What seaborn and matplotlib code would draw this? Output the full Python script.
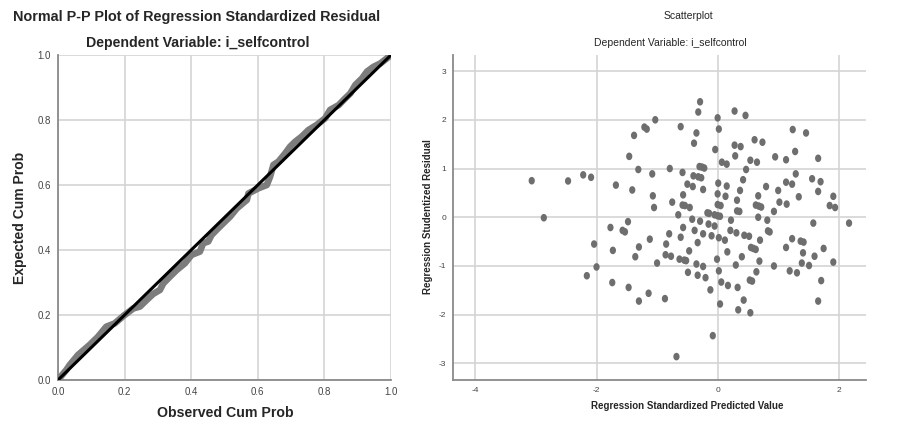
import numpy as np
import pandas as pd
import matplotlib
matplotlib.use("Agg")
import matplotlib.pyplot as plt
from matplotlib.path import Path
import seaborn as sns

# ---------------- data ----------------
pp_observed = [0.0, 0.025, 0.035, 0.06, 0.095, 0.12, 0.145, 0.17, 0.2, 0.226, 0.246, 0.266,
               0.286, 0.306, 0.316, 0.336, 0.356, 0.381, 0.401, 0.426, 0.436, 0.451, 0.461,
               0.481, 0.496, 0.517, 0.537, 0.567, 0.572, 0.602, 0.627, 0.637, 0.647, 0.662,
               0.682, 0.697, 0.712, 0.732, 0.752, 0.777, 0.802, 0.817, 0.843, 0.858, 0.878,
               0.893, 0.913, 0.928, 0.948, 0.968, 0.988, 1.0]
pp_expected = [0.0, 0.031, 0.046, 0.077, 0.108, 0.133, 0.164, 0.174, 0.2, 0.22, 0.226, 0.246,
               0.265, 0.277, 0.297, 0.318, 0.338, 0.359, 0.385, 0.395, 0.421, 0.426, 0.446,
               0.467, 0.482, 0.503, 0.528, 0.554, 0.574, 0.590, 0.600, 0.626, 0.662, 0.672,
               0.697, 0.718, 0.733, 0.749, 0.769, 0.785, 0.805, 0.831, 0.846, 0.862, 0.882,
               0.908, 0.928, 0.949, 0.964, 0.974, 0.990, 1.0]

scatter_pred = [
    -3.07, -2.47, -2.22, -2.09, -1.68, -2.87, -1.77, -2.04, -1.73, -2.0, -2.16, -1.74,
    -0.29, -0.32, 0.28, 0.46, 0.0, -1.03, -1.21, -1.17, -1.38, -0.61, -0.35, 0.02, -0.39,
    -0.04, 0.28, 0.38, 0.29, 0.61, 0.74, 1.24, 1.46,
    -1.46, 0.07, 0.15, 0.54, 0.65, 0.95, 1.13, 1.28, 1.66,
    -1.31, -1.08, -0.79, -0.58, -0.30, -0.26, -0.22, 0.47, 1.29, -0.40, -0.32, -0.27, 0.42,
    1.56, 1.70,
    -1.41, -0.50, -0.41, -0.24, 0.01, 0.15, 0.37, 0.80, 1.13, 1.23, 1.66,
    -1.07, -0.57, 0.0, 0.13, 0.67, 1.00, 1.34, 1.91,
    -0.75, -1.05, -0.58, -0.54, -0.46, 0.0, 0.05, 0.32, 0.63, 0.68, 0.72, 1.02, 1.14, 1.85, 1.94,
    -0.17, -0.14, -0.05, 0.0, 0.04, 0.32, 0.36, 0.93, -0.65, 0.67, -0.42, -0.29, -0.15, -0.05,
    0.22, 0.82, -1.48, 1.58, 2.17, -1.57, -1.53, -0.57, -0.38, 0.21, 0.31, 0.83, 0.86, -0.80,
    -0.24, -0.10, 0.02, 0.12, 0.44, 0.52, -0.61, -1.12, 0.70, 1.23, 1.37, 1.42, -0.33, -0.85,
    -1.30, 0.55, 0.59, 0.63, 1.13, 1.75, -0.47, 0.16, 1.41, -0.86, -0.77, -1.36, 0.40, 1.60,
    -0.63, -0.55, -0.52, -0.01, -1.00, -0.35, -0.24, 0.30, 0.69, 0.93, 1.39, 1.51, 1.91, 0.02,
    0.64, 1.19, 1.31, -0.49, -0.33, -0.20, 0.06, 0.17, 0.33, 0.53, 0.57, 1.71, -1.47, -0.12,
    -1.14, -1.30, -0.87, 0.43, 1.66, 0.04, 0.34, 0.54, -0.08, -0.68]
scatter_resid = [
    0.75, 0.745, 0.87, 0.82, 0.66, -0.01, -0.21, -0.55, -0.68, -1.02, -1.20, -1.34,
    2.37, 2.16, 2.18, 2.09, 2.04, 2.0, 1.85, 1.81, 1.68, 1.86, 1.73, 1.81, 1.52,
    1.39, 1.48, 1.45, 1.26, 1.59, 1.54, 1.80, 1.73,
    1.25, 1.13, 1.09, 1.17, 1.13, 1.24, 1.18, 1.35, 1.21,
    0.98, 0.89, 1.0, 0.92, 1.04, 1.03, 1.01, 0.98, 0.89, 0.85, 0.83, 0.81, 0.77,
    0.79, 0.73,
    0.56, 0.68, 0.63, 0.57, 0.70, 0.64, 0.55, 0.63, 0.72, 0.68, 0.53,
    0.44, 0.46, 0.48, 0.43, 0.44, 0.55, 0.42, 0.43,
    0.31, 0.20, 0.25, 0.24, 0.20, 0.26, 0.24, 0.35, 0.25, 0.23, 0.21, 0.31, 0.27, 0.24, 0.20,
    0.09, 0.08, 0.05, 0.03, 0.02, 0.13, 0.12, 0.12, 0.05, 0.0, -0.04, -0.08, -0.14, -0.18,
    -0.06, -0.06, -0.09, -0.12, -0.12, -0.27, -0.30, -0.21, -0.27, -0.27, -0.32, -0.28, -0.30, -0.34,
    -0.34, -0.38, -0.42, -0.47, -0.37, -0.39, -0.41, -0.45, -0.47, -0.44, -0.49, -0.51, -0.52, -0.55,
    -0.61, -0.62, -0.64, -0.66, -0.62, -0.64, -0.69, -0.71, -0.73, -0.77, -0.80, -0.81, -0.81, -0.80,
    -0.86, -0.88, -0.89, -0.86, -0.94, -0.96, -1.01, -0.98, -0.90, -1.0, -0.94, -0.99, -0.92, -1.10,
    -1.12, -1.10, -1.14, -1.13, -1.19, -1.24, -1.33, -1.40, -1.44, -1.29, -1.31, -1.30, -1.44, -1.49,
    -1.56, -1.72, -1.67, -1.70, -1.72, -1.78, -1.90, -1.96, -2.43, -2.86]

pp_ticks = [0.0, 0.2, 0.4, 0.6, 0.8, 1.0]
pp_ticklabels = ["0.0", "0.2", "0.4", "0.6", "0.8", "1.0"]
sc_xticks = [-4, -2, 0, 2]
sc_yticks = [-3, -2, -1, 0, 1, 2, 3]

# ---------------- style ----------------
sns.set_style("white")
plt.rcParams["font.family"] = ["Liberation Sans", "DejaVu Sans"]

W, H = 911, 426
fig = plt.figure(figsize=(W / 100, H / 100), dpi=100)

def ax_rect(l, t, r, b):
    return [l / W, 1 - b / H, (r - l) / W, (b - t) / H]

grid_c = "#d4d4d4"
spine_c = "#8a8a8a"
tick_c = "#444444"

# slightly tall elliptical marker, like the SPSS dots
_t = np.linspace(0, 2 * np.pi, 40)
ellipse_marker = Path(np.column_stack([0.82 * np.cos(_t), np.sin(_t)]))

# ---------------- left: P-P plot ----------------
ax1 = fig.add_axes(ax_rect(58, 55, 391, 380))
pp_df = pd.DataFrame({"obs": pp_observed, "exp": pp_expected})
sns.lineplot(data=pp_df, x="obs", y="exp", ax=ax1, sort=False, color="#7c7c7c",
             linewidth=4.8, solid_capstyle="round", solid_joinstyle="round", zorder=3)
sns.lineplot(x=[0.0, 1.0], y=[0.0, 1.0], ax=ax1, color="black", linewidth=2.2, zorder=4)
ax1.set_xlim(0, 1)
ax1.set_ylim(0, 1)
ax1.set_xticks(pp_ticks)
ax1.set_yticks(pp_ticks)
ax1.set_xticklabels(pp_ticklabels)
ax1.set_yticklabels(pp_ticklabels)
ax1.grid(True, color=grid_c, linewidth=1.2)
ax1.set_axisbelow(True)
ax1.set_xlabel("")
ax1.set_ylabel("")

# ---------------- right: scatter ----------------
ax2 = fig.add_axes(ax_rect(453, 55, 866, 380))
sc_df = pd.DataFrame({"pred": scatter_pred, "resid": scatter_resid})
sns.scatterplot(data=sc_df, x="pred", y="resid", ax=ax2, color="#6e6e6e", s=30,
                marker=ellipse_marker, edgecolor="none", zorder=3)
ax2.set_xlim(-4.37, 2.45)
ax2.set_ylim(-3.34, 3.33)
ax2.set_xticks(sc_xticks)
ax2.set_yticks(sc_yticks)
ax2.set_xticklabels([str(v) for v in sc_xticks])
ax2.set_yticklabels([str(v) for v in sc_yticks])
ax2.grid(True, color=grid_c, linewidth=1.2)
ax2.set_axisbelow(True)
ax2.set_xlabel("")
ax2.set_ylabel("")

for ax, fs in ((ax1, 7), (ax2, 6)):
    for side in ("top", "right"):
        ax.spines[side].set_visible(False)
    for side in ("left", "bottom"):
        ax.spines[side].set_color(spine_c)
        ax.spines[side].set_linewidth(1.3)
    ax.tick_params(axis="both", which="both", length=3, width=0.8, color=spine_c,
                   labelsize=fs, labelcolor=tick_c, pad=2)

# ---------------- texts ----------------
fig.text(197 / W, 1 - 17 / H, "Normal P-P Plot of Regression Standardized Residual",
         ha="center", va="center", fontsize=10.4, fontweight="bold")
fig.text(198 / W, 1 - 43 / H, "Dependent Variable: i_selfcontrol",
         ha="center", va="center", fontsize=10.2, fontweight="bold")
fig.text(20 / W, 1 - 218 / H, "Expected Cum Prob", ha="center", va="center",
         rotation=90, fontsize=10, fontweight="bold")
fig.text(225 / W, 1 - 413 / H, "Observed Cum Prob", ha="center", va="center",
         fontsize=10.2, fontweight="bold")

fig.text(688 / W, 1 - 16 / H, "Scatterplot", ha="center", va="center", fontsize=7.5)
fig.text(670 / W, 1 - 43 / H, "Dependent Variable: i_selfcontrol",
         ha="center", va="center", fontsize=7.5)
fig.text(428 / W, 1 - 217 / H, "Regression Studentized Residual", ha="center", va="center",
         rotation=90, fontsize=7, fontweight="bold")
fig.text(687 / W, 1 - 406 / H, "Regression Standardized Predicted Value",
         ha="center", va="center", fontsize=7, fontweight="bold")

fig.savefig("out.png", dpi=100)
